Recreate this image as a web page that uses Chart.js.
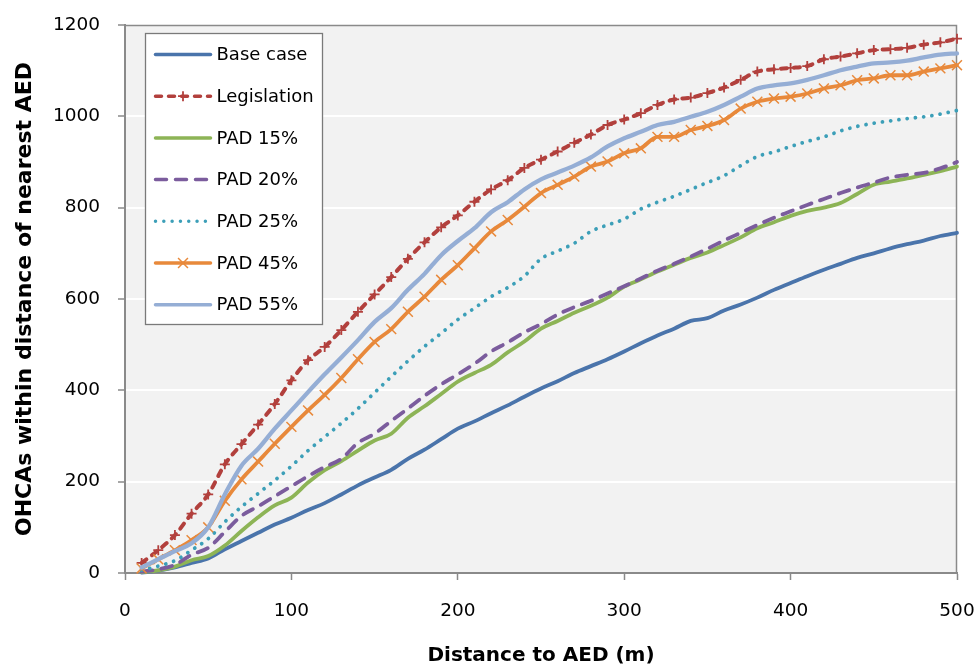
<!DOCTYPE html>
<html>
<head>
<meta charset="utf-8">
<title>OHCAs within distance of nearest AED</title>
<script src="https://cdn.jsdelivr.net/npm/chart.js@4/dist/chart.umd.min.js"></script>
<style>
  html, body { margin: 0; padding: 0; background: #ffffff; }
  #wrap { width: 977px; height: 668px; }
</style>
</head>
<body>
<div id="wrap"><canvas id="chart" width="977" height="668"></canvas></div>
<script>
// Distance to the nearest AED (m), one sample every 10 m
const distances = [10, 20, 30, 40, 50, 60, 70, 80, 90, 100,
  110, 120, 130, 140, 150, 160, 170, 180, 190, 200,
  210, 220, 230, 240, 250, 260, 270, 280, 290, 300,
  310, 320, 330, 340, 350, 360, 370, 380, 390, 400,
  410, 420, 430, 440, 450, 460, 470, 480, 490, 500];

// Cumulative number of OHCAs covered within each distance
const baseCase = [1, 5, 12, 22, 32, 52, 70, 88, 106, 121,
  138, 153, 172, 192, 209, 226, 250, 270, 293, 316,
  332, 350, 367, 386, 404, 420, 438, 453, 468, 485,
  503, 520, 535, 552, 558, 575, 588, 603, 620, 635,
  650, 664, 677, 690, 700, 711, 720, 728, 738, 745];

const legislation = [22, 50, 83, 130, 172, 238, 282, 325, 370, 422,
  466, 495, 532, 572, 610, 648, 688, 724, 757, 783,
  813, 840, 860, 887, 905, 923, 942, 960, 981, 993,
  1007, 1025, 1037, 1041, 1051, 1063, 1080, 1098, 1103, 1106,
  1110, 1125, 1131, 1138, 1145, 1147, 1150, 1157, 1162, 1170];

const pad15 = [2, 6, 14, 28, 37, 60, 92, 122, 148, 165,
  198, 225, 245, 268, 290, 305, 340, 365, 392, 419,
  438, 456, 483, 507, 535, 552, 570, 585, 603, 627,
  643, 660, 675, 690, 702, 718, 735, 755, 768, 782,
  793, 800, 810, 830, 850, 857, 864, 872, 880, 890];

const pad20 = [3, 8, 18, 40, 55, 90, 125, 146, 168, 190,
  212, 232, 250, 285, 305, 333, 360, 388, 413, 435,
  458, 485, 505, 527, 545, 566, 582, 596, 612, 628,
  645, 662, 677, 693, 710, 728, 745, 762, 778, 792,
  806, 819, 832, 844, 855, 866, 872, 876, 886, 900];

const pad25 = [6, 15, 27, 50, 75, 112, 145, 174, 203, 234,
  268, 298, 328, 360, 395, 430, 464, 496, 525, 555,
  580, 605, 625, 650, 688, 705, 722, 748, 762, 775,
  797, 812, 825, 840, 855, 870, 892, 912, 922, 934,
  945, 955, 968, 978, 985, 990, 995, 999, 1005, 1013];

const pad45 = [10, 30, 50, 72, 100, 158, 205, 244, 283, 320,
  356, 390, 427, 468, 506, 534, 572, 605, 642, 674,
  711, 748, 773, 802, 832, 850, 868, 890, 901, 919,
  930, 955, 955, 970, 979, 992, 1017, 1032, 1039, 1043,
  1050, 1061, 1068, 1079, 1083, 1090, 1090, 1098, 1105, 1112];

const pad55 = [12, 30, 48, 65, 100, 172, 235, 272, 316, 356,
  396, 435, 472, 510, 550, 580, 620, 655, 696, 727,
  755, 790, 812, 840, 862, 877, 892, 910, 934, 952,
  966, 981, 988, 999, 1010, 1025, 1043, 1061, 1068, 1072,
  1080, 1090, 1101, 1109, 1116, 1118, 1122, 1129, 1135, 1138];

const seriesNames = ['Base case', 'Legislation', 'PAD 15%', 'PAD 20%', 'PAD 25%', 'PAD 45%', 'PAD 55%'];
const seriesValues = [baseCase, legislation, pad15, pad20, pad25, pad45, pad55];

// Axis ranges and tick spacing
const xRange = [0, 500];
const xStep = 100;
const yRange = [0, 1200];
const yStep = 200;

// Line styles per series
const styles = [
  { color: '#4a74ab', width: 3.8, dash: [], cap: 'round' },
  { color: '#b2403d', width: 4, dash: [6, 7], cap: 'round', point: 'cross', radius: 5, pointWidth: 1.8 },
  { color: '#8db456', width: 3.8, dash: [], cap: 'round' },
  { color: '#7b5c9d', width: 3.8, dash: [11, 9], cap: 'round' },
  { color: '#3c9fb8', width: 3.8, dash: [0.01, 8.3], cap: 'round' },
  { color: '#e8893b', width: 3.8, dash: [], cap: 'round', point: 'crossRot', radius: 7, pointWidth: 1.5 },
  { color: '#95aed5', width: 4.3, dash: [], cap: 'round' }
];

const datasets = seriesNames.map((name, i) => {
  const st = styles[i];
  return {
    label: name,
    data: distances.map((d, k) => ({ x: d, y: seriesValues[i][k] })),
    borderColor: st.color,
    backgroundColor: st.color,
    borderWidth: st.width,
    borderDash: st.dash,
    borderCapStyle: st.cap,
    borderJoinStyle: 'round',
    cubicInterpolationMode: 'monotone',
    pointStyle: st.point || 'circle',
    pointRadius: st.point ? st.radius : 0,
    pointHoverRadius: st.point ? st.radius : 0,
    pointBorderWidth: st.point ? st.pointWidth : 0,
    pointBorderColor: st.color,
    pointBackgroundColor: st.color,
    fill: false,
    clip: 10,
    order: seriesNames.length - 1 - i
  };
});

const AXIS_GREY = '#8a8a8a';
const FONT_FAMILY = '"DejaVu Sans", Verdana, sans-serif';
const TICK_FONT = { family: FONT_FAMILY, size: 18.5 };

// Grey plot area with a thin frame
const plotBackground = {
  id: 'plotBackground',
  beforeDraw(chart) {
    const { ctx, chartArea: a } = chart;
    ctx.save();
    ctx.fillStyle = '#f2f2f2';
    ctx.fillRect(a.left, a.top, a.right - a.left, a.bottom - a.top);
    ctx.restore();
  },
  beforeDatasetsDraw(chart) {
    const { ctx, chartArea: a } = chart;
    ctx.save();
    ctx.strokeStyle = AXIS_GREY;
    ctx.lineWidth = 1.5;
    ctx.beginPath();
    ctx.moveTo(a.left, a.top + 0.5);
    ctx.lineTo(a.right - 0.5, a.top + 0.5);
    ctx.lineTo(a.right - 0.5, a.bottom);
    ctx.stroke();
    ctx.restore();
  }
};

// Boxed legend drawn inside the plot area, top-left
const boxLegend = {
  id: 'boxLegend',
  afterDraw(chart) {
    const { ctx, chartArea: a } = chart;
    const dsList = chart.data.datasets;
    const x0 = a.left + 20.5, y0 = a.top + 8.5;
    const w = 177, rowH = 41.7, h = 291;
    ctx.save();
    ctx.fillStyle = '#ffffff';
    ctx.fillRect(x0, y0, w, h);
    ctx.strokeStyle = '#7a7a7a';
    ctx.lineWidth = 1.3;
    ctx.strokeRect(x0, y0, w, h);

    ctx.font = '18px ' + FONT_FAMILY;
    ctx.textBaseline = 'middle';
    ctx.textAlign = 'left';
    dsList.forEach((ds, i) => {
      const y = y0 + 21 + i * rowH;
      const lx0 = x0 + 10, lx1 = x0 + 65, cx = (lx0 + lx1) / 2;
      ctx.save();
      ctx.strokeStyle = ds.borderColor;
      ctx.lineWidth = Math.min(ds.borderWidth, 3.5);
      ctx.lineCap = ds.borderCapStyle;
      ctx.setLineDash(ds.borderDash);
      ctx.beginPath();
      ctx.moveTo(lx0, y);
      ctx.lineTo(lx1, y);
      ctx.stroke();
      ctx.setLineDash([]);
      ctx.lineCap = 'butt';
      ctx.lineWidth = ds.pointBorderWidth;
      const r = ds.pointRadius;
      if (ds.pointStyle === 'cross') {
        ctx.beginPath();
        ctx.moveTo(cx - r, y); ctx.lineTo(cx + r, y);
        ctx.moveTo(cx, y - r); ctx.lineTo(cx, y + r);
        ctx.stroke();
      } else if (ds.pointStyle === 'crossRot') {
        const o = r * Math.SQRT1_2;
        ctx.beginPath();
        ctx.moveTo(cx - o, y - o); ctx.lineTo(cx + o, y + o);
        ctx.moveTo(cx - o, y + o); ctx.lineTo(cx + o, y - o);
        ctx.stroke();
      }
      ctx.restore();
      ctx.fillStyle = '#000000';
      ctx.fillText(ds.label, x0 + 71, y + 1);
    });
    ctx.restore();
  }
};

new Chart(document.getElementById('chart'), {
  type: 'line',
  data: { datasets },
  plugins: [plotBackground, boxLegend],
  options: {
    responsive: false,
    devicePixelRatio: 1,
    animation: false,
    events: [],
    layout: { padding: { left: 0, top: 25, right: 20, bottom: 0 } },
    plugins: {
      legend: { display: false },
      tooltip: { enabled: false },
      title: { display: false }
    },
    scales: {
      x: {
        type: 'linear',
        min: xRange[0],
        max: xRange[1],
        afterFit(scale) {
          scale.height = 95;
          scale.paddingLeft = 0;
          scale.paddingRight = 0;
        },
        ticks: { stepSize: xStep, color: '#000000', font: TICK_FONT, padding: 20, maxRotation: 0,
                 callback: (v) => String(v) },
        grid: { drawOnChartArea: false, drawTicks: true, tickLength: 7, tickColor: AXIS_GREY, tickWidth: 1.5 },
        border: { color: AXIS_GREY, width: 2 },
        title: {
          display: true,
          text: 'Distance to AED (m)',
          color: '#000000',
          font: { family: FONT_FAMILY, size: 20, weight: 'bold' },
          padding: { top: 0, bottom: 0 }
        }
      },
      y: {
        type: 'linear',
        min: yRange[0],
        max: yRange[1],
        afterFit(scale) {
          scale.width = 125;
          scale.paddingTop = 0;
          scale.paddingBottom = 0;
        },
        ticks: { stepSize: yStep, color: '#000000', font: TICK_FONT, padding: 18,
                 callback: (v) => String(v) },
        grid: { color: '#ffffff', lineWidth: 2, drawTicks: true, tickLength: 7, tickColor: AXIS_GREY, tickWidth: 1.5 },
        border: { color: AXIS_GREY, width: 2 },
        title: {
          display: true,
          text: 'OHCAs within distance of nearest AED',
          color: '#000000',
          font: { family: FONT_FAMILY, size: 22, weight: 'bold' },
          padding: { top: 12, bottom: 0 }
        }
      }
    }
  }
});
</script>
</body>
</html>
